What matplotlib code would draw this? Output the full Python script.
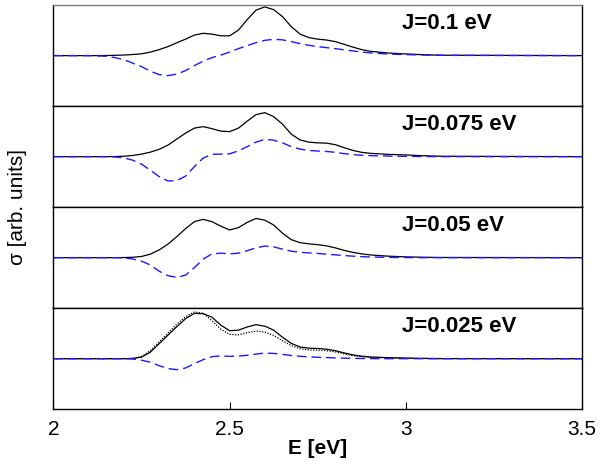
import matplotlib
matplotlib.use('Agg')
import matplotlib.pyplot as plt

plt.rcParams['font.family'] = ['Liberation Sans', 'DejaVu Sans']

# photon energy grid (eV)
energy = [2.0, 2.1, 2.15, 2.175, 2.2, 2.225, 2.25, 2.275, 2.3, 2.325, 2.35, 2.375,
          2.4, 2.425, 2.45, 2.475, 2.5, 2.525, 2.55, 2.575, 2.6, 2.625, 2.65, 2.675,
          2.7, 2.725, 2.75, 2.775, 2.8, 2.825, 2.85, 2.875, 2.9, 2.95, 3.0, 3.05, 3.1, 3.5]

labels = ['J=0.1 eV', 'J=0.075 eV', 'J=0.05 eV', 'J=0.025 eV']

# total cross section (solid black), arb. units
sigma_j100 = [0, 0, 0.1, 0.3, 0.6, 1.1, 1.8, 3.5, 6, 9, 12.8, 16.5,
              20.5, 22.3, 21.5, 19.8, 19.8, 25.5, 36, 45.5, 48.7, 46, 39, 29,
              21.5, 18, 16.5, 15.6, 14, 11.3, 8.5, 6, 4.3, 2.6, 1.7, 0.9, 0.4, 0]
sigma_j075 = [0, 0, 0, 0.1, 0.4, 1.2, 2.5, 4.5, 7.3, 11.5, 17.5, 23.5,
              28.5, 30, 28, 25.5, 25, 28.5, 35.5, 42, 44, 40, 32.5, 22.5,
              16.7, 14.5, 13.8, 13.5, 12, 9, 6.2, 4.3, 3.3, 2.3, 1.7, 0.9, 0.4, 0]
sigma_j050 = [0, 0, 0, 0, 0.1, 0.4, 1.2, 3.5, 7.7, 13.5, 21, 29,
              36, 38.3, 36, 31.5, 27.7, 30, 35.3, 39.2, 37.5, 32.7, 24.5, 18,
              15, 13.8, 13, 11.8, 9.8, 7.3, 5.3, 3.8, 2.7, 1.5, 0.8, 0.4, 0.2, 0]
sigma_j025 = [0, 0, 0, 0, 0, 0.2, 1.5, 6.5, 15, 23.5, 32, 40,
              45.3, 45, 41.5, 33.5, 28, 28.5, 31.7, 34, 32.5, 28.5, 21.5, 15.3,
              11.7, 10.5, 10.2, 9.5, 8, 5.8, 3.8, 2.5, 1.7, 1, 0.6, 0.3, 0.1, 0]

# difference spectrum (blue dashed)
diff_j100 = [0, 0, -0.6, -2, -4, -7.5, -11, -15.5, -19, -20, -18.5, -15,
             -10, -5.5, -2, 0.5, 3.5, 7, 10, 13, 15.3, 16.3, 15.8, 14,
             12, 10.3, 9, 8, 7, 5.8, 4.7, 3.6, 2.7, 1.6, 1, 0.6, 0.3, 0]
diff_j075 = [0, 0, 0, -0.3, -1.2, -3.5, -7.5, -13.5, -20, -24.3, -24, -19.5,
             -10, -1.5, 2.3, 2.5, 2.8, 5.8, 10, 14.5, 17.3, 16.5, 13.8, 10,
             7.5, 6.2, 5.6, 5.2, 4.3, 3, 2, 1.4, 1, 0.6, 0.3, 0.1, 0, 0]
diff_j050 = [0, 0, 0, 0, -0.3, -1.3, -3.5, -7.3, -13.5, -18, -19.7, -17.5,
             -10, -1.5, 3.8, 4.5, 3.8, 4.5, 7, 9.8, 11.6, 10.8, 8.5, 6.5,
             5.3, 4.8, 4.2, 3.5, 2.8, 2.1, 1.5, 1, 0.7, 0.3, 0.1, 0, 0, 0]
diff_j025 = [0, 0, 0, 0, 0, -0.3, -1.5, -3.5, -7, -9.8, -11, -9.3,
             -5, -1, 2, 2.8, 2.3, 2.6, 3.4, 4.6, 5.6, 5.3, 4.3, 3.2,
             2.4, 1.8, 1.4, 1.1, 0.8, 0.5, 0.3, 0.2, 0.1, 0, 0, 0, 0, 0]

# extra reference curve in the lowest panel (dotted black)
sigma_j025_ref = [0, 0, 0, 0, 0, 0.4, 2.2, 8, 16.7, 25.5, 34.5, 42,
                  46.7, 45.5, 38, 29.5, 24.3, 23.8, 26, 27.7, 26.5, 23.3, 18, 13,
                  10, 8.8, 8.5, 8, 6.8, 4.8, 3, 2, 1.3, 0.8, 0.5, 0.2, 0.1, 0]

sigmas = [sigma_j100, sigma_j075, sigma_j050, sigma_j025]
diffs = [diff_j100, diff_j075, diff_j050, diff_j025]

fig, axes = plt.subplots(4, 1, sharex=True, figsize=(6, 4.65), dpi=100)
fig.subplots_adjust(left=0.089, right=0.97, top=0.989, bottom=0.12, hspace=0)

for i, ax in enumerate(axes):
  ax.plot(energy, sigmas[i], color='black', lw=0.9)
  if i == 3:
    ax.plot(energy, sigma_j025_ref, color='black', lw=0.9, linestyle=(0, (1, 1.2)))
  ax.plot(energy, diffs[i], color='#1a1aff', lw=1.0, linestyle=(0, (7, 3.5)))
  ax.text(2.99, 32, labels[i], fontsize=16, fontweight='bold', va='center', ha='left')
  ax.set_xlim(2, 3.5)
  ax.set_ylim(-50.5, 50.5)
  ax.set_yticks([])
  for s in ax.spines.values():
    s.set_linewidth(1.0)
  if i < 3:
    ax.tick_params(axis='x', bottom=False, labelbottom=False)

axes[0].spines['top'].set_color('#777777')

axes[3].set_xticks([2, 2.5, 3, 3.5])
axes[3].set_xticklabels(['2', '2.5', '3', '3.5'])
axes[3].tick_params(axis='x', direction='in', length=5, labelsize=15, pad=8)
axes[3].set_xlabel('E [eV]', fontsize=15, fontweight='bold', labelpad=0)
fig.text(0.03, 0.555, 'σ [arb. units]', rotation=90, fontsize=15, ha='center', va='center')

plt.savefig('out.png')
